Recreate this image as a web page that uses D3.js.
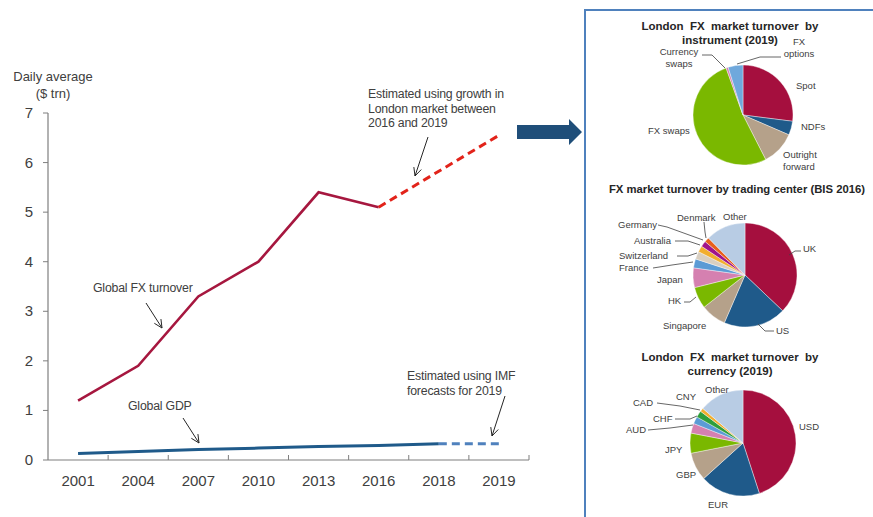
<!DOCTYPE html>
<html>
<head>
<meta charset="utf-8">
<title>FX turnover</title>
<script src="https://cdn.jsdelivr.net/npm/d3@7"></script>
<style>
  body { margin: 0; background: #fff; }
  svg text { font-family: "Liberation Sans", Arial, sans-serif; white-space: pre; }
</style>
</head>
<body>
<div id="chart"></div>
<script>
// ---- data ----
var years = ["2001", "2004", "2007", "2010", "2013", "2016", "2018", "2019"];
var fxYears = ["2001", "2004", "2007", "2010", "2013", "2016"];
var fxTurnover = [1.2, 1.9, 3.3, 4.0, 5.4, 5.1];
var fxEstYears = ["2016", "2019"];
var fxEstimate = [5.1, 6.55];
var gdpYears = ["2001", "2004", "2007", "2010", "2013", "2016", "2018"];
var gdp = [0.13, 0.17, 0.21, 0.24, 0.27, 0.29, 0.33];
var gdpEstYears = ["2018", "2019"];
var gdpEstimate = [0.33, 0.33];
var yTicks = [0, 1, 2, 3, 4, 5, 6, 7];

var instrLabels = ["Spot", "NDFs", "Outright forward", "FX swaps", "Currency swaps", "FX options"];
var instrShares = [27, 4.5, 11, 52, 0.7, 4.8];
var centerLabels = ["UK", "US", "Singapore", "HK", "Japan", "France", "Switzerland", "Australia", "Germany", "Denmark", "Other"];
var centerShares = [37.1, 19.4, 7.9, 6.7, 6.1, 2.8, 2.4, 1.9, 1.8, 1.5, 12.4];
var currLabels = ["USD", "EUR", "GBP", "JPY", "AUD", "CHF", "CAD", "CNY", "Other"];
var currShares = [45, 18.3, 8.6, 6.1, 3, 2.2, 2, 1.1, 13.7];

var width = 873, height = 517;
var svg = d3.select("#chart").append("svg")
  .attr("width", width)
  .attr("height", height);

// ---- line chart ----
var x = d3.scaleBand().domain(years).range([48, 529]).padding(0);
var y = d3.scaleLinear().domain([0, 7]).range([460, 113]);
var cx = function(d) { return x(d) + x.bandwidth() / 2; };

var axisColor = "#7f7f7f", textColor = "#404040";

// y axis
svg.append("line").attr("x1", 48).attr("x2", 48).attr("y1", y(7)).attr("y2", y(0))
  .attr("stroke", axisColor).attr("stroke-width", 1.2);
svg.selectAll("line.ytick").data(yTicks).enter().append("line")
  .attr("class", "ytick")
  .attr("x1", 43).attr("x2", 48)
  .attr("y1", function(d) { return y(d); }).attr("y2", function(d) { return y(d); })
  .attr("stroke", axisColor);
svg.selectAll("text.ylab").data(yTicks).enter().append("text")
  .attr("class", "ylab")
  .attr("x", 33).attr("y", function(d) { return y(d) + 5; })
  .attr("text-anchor", "end")
  .attr("font-size", 15).attr("fill", textColor)
  .text(function(d) { return d; });

svg.append("text").attr("x", 53).attr("y", 81).attr("text-anchor", "middle")
  .attr("font-size", 13).attr("fill", textColor).text("Daily average");
svg.append("text").attr("x", 53).attr("y", 98).attr("text-anchor", "middle")
  .attr("font-size", 13).attr("fill", textColor).text("($ trn)");

// x axis
svg.append("line").attr("x1", 48).attr("x2", 529).attr("y1", y(0)).attr("y2", y(0))
  .attr("stroke", axisColor).attr("stroke-width", 1.2);
svg.selectAll("line.xtick").data(years).enter().append("line")
  .attr("class", "xtick")
  .attr("x1", function(d) { return x(d) + x.bandwidth(); })
  .attr("x2", function(d) { return x(d) + x.bandwidth(); })
  .attr("y1", y(0) - 5).attr("y2", y(0))
  .attr("stroke", axisColor);
svg.selectAll("text.xlab").data(years).enter().append("text")
  .attr("class", "xlab")
  .attr("x", cx).attr("y", 486)
  .attr("text-anchor", "middle")
  .attr("font-size", 15).attr("fill", textColor)
  .text(function(d) { return d; });

var line = d3.line().x(function(d) { return cx(d[0]); }).y(function(d) { return y(d[1]); });

svg.append("path").datum(d3.zip(fxYears, fxTurnover)).attr("d", line)
  .attr("fill", "none").attr("stroke", "#A6173F").attr("stroke-width", 2.6);
svg.append("path").datum(d3.zip(fxEstYears, fxEstimate)).attr("d", line)
  .attr("fill", "none").attr("stroke", "#E2231A").attr("stroke-width", 3)
  .attr("stroke-dasharray", "8,5");
svg.append("path").datum(d3.zip(gdpYears, gdp)).attr("d", line)
  .attr("fill", "none").attr("stroke", "#1F5A8A").attr("stroke-width", 3);
svg.append("path").datum(d3.zip(gdpEstYears, gdpEstimate)).attr("d", line)
  .attr("fill", "none").attr("stroke", "#4F81BD").attr("stroke-width", 3)
  .attr("stroke-dasharray", "8,5");

// annotations
function note(lines, x0, y0, size) {
  var t = svg.append("text").attr("font-size", size).attr("fill", "#404040")
    .attr("letter-spacing", -0.2);
  lines.forEach(function(s, i) {
    t.append("tspan").attr("x", x0).attr("y", y0 + i * 14.5).text(s);
  });
}
function arrow(x1, y1, x2, y2) {
  svg.append("line").attr("x1", x1).attr("y1", y1).attr("x2", x2).attr("y2", y2)
    .attr("stroke", "#262626").attr("stroke-width", 1);
  var a = Math.atan2(y2 - y1, x2 - x1), L = 9, w = 0.45;
  svg.append("polyline")
    .attr("points", [
      [x2 - L * Math.cos(a - w), y2 - L * Math.sin(a - w)],
      [x2, y2],
      [x2 - L * Math.cos(a + w), y2 - L * Math.sin(a + w)]
    ].map(function(p) { return p.join(","); }).join(" "))
    .attr("fill", "none").attr("stroke", "#262626").attr("stroke-width", 1);
}
note(["Estimated using growth in", "London market between", "2016 and 2019"], 368, 98, 12.3);
arrow(428, 137, 415, 176);
note(["Global FX turnover"], 93, 292, 12.3);
arrow(146, 303, 162, 328);
note(["Global GDP"], 128, 410, 12.3);
arrow(183, 418, 199, 443);
note(["Estimated using IMF", "forecasts for 2019"], 407, 380, 12.3);
arrow(505, 396, 492, 436);

// big arrow
svg.append("polygon")
  .attr("points", "517,125 569,125 569,119 582,132 569,145 569,139 517,139")
  .attr("fill", "#1F4E79");

// ---- right panel ----
svg.append("rect").attr("x", 585).attr("y", 10).attr("width", 300).attr("height", 520)
  .attr("fill", "none").attr("stroke", "#4F81BD").attr("stroke-width", 2);

function title(lines, x0, y0, size) {
  var t = svg.append("text").attr("font-size", size).attr("font-weight", "bold")
    .attr("fill", "#262626").attr("text-anchor", "middle");
  lines.forEach(function(s, i) {
    t.append("tspan").attr("x", x0).attr("y", y0 + i * 13.5).text(s);
  });
}

function pie(shares, colors, c0, c1, r) {
  var arcs = d3.pie().sort(null)(shares);
  var arc = d3.arc().innerRadius(0).outerRadius(r);
  svg.append("g").attr("transform", "translate(" + c0 + "," + c1 + ")")
    .selectAll("path").data(arcs).enter().append("path")
    .attr("d", arc)
    .attr("fill", function(d, i) { return colors[i]; })
    .attr("stroke", "#fff").attr("stroke-width", 0.4);
}

function label(lines, x0, y0, anchor) {
  var t = svg.append("text").attr("font-size", 9.5).attr("fill", "#404040")
    .attr("text-anchor", anchor || "start");
  lines.forEach(function(s, i) {
    t.append("tspan").attr("x", x0).attr("y", y0 + i * 11.5).text(s);
  });
}
function leader(pts) {
  svg.append("polyline").attr("points", pts.map(function(p) { return p.join(","); }).join(" "))
    .attr("fill", "none").attr("stroke", "#404040").attr("stroke-width", 0.8);
}

var crimson = "#A50F3E", navy = "#1F5A8A", tan = "#B5A18A", green = "#7AB800",
    pink = "#D580B0", blue = "#5B9BD5", beige = "#D9CFC1", gold = "#F2AE2E",
    magenta = "#A0148A", orange = "#E8601C", pale = "#B8CCE4", dgreen = "#2E9E3A";

// pie 1
title(["London  FX  market turnover  by", "instrument (2019)"], 730, 30, 11.5);
pie(instrShares, [crimson, navy, tan, green, pink, "#6FA8DC"], 743, 115, 50);
label(["Spot"], 796, 89);
label(["NDFs"], 801, 130);
label(["Outright", "forward"], 783, 158);
label(["FX swaps"], 648, 134);
label(["Currency", "swaps"], 679, 55, "middle");
label(["FX", "options"], 799, 45, "middle");
leader([[702, 55], [712, 55], [725, 68]]);
leader([[781, 57], [760, 57], [737, 64]]);

// pie 2
title(["FX market turnover by trading center (BIS 2016)"], 737, 193, 11.3);
pie(centerShares, [crimson, navy, tan, green, pink, blue, beige, gold, magenta, orange, pale], 745, 275, 52);
label(["UK"], 803, 252);
label(["US"], 776, 334);
label(["Singapore"], 663, 329);
label(["HK"], 668, 304);
label(["Japan"], 657, 283);
label(["France"], 619, 271);
label(["Switzerland"], 619, 259);
label(["Australia"], 634, 244);
label(["Germany"], 618, 228);
label(["Denmark"], 677, 221);
label(["Other"], 723, 220);
leader([[789, 255], [795, 251], [801, 251]]);
leader([[758, 324], [765, 331], [774, 331]]);
leader([[684, 302], [690, 302], [696, 297]]);
leader([[653, 268], [672, 265], [693, 262]]);
leader([[677, 256], [688, 256], [697, 253]]);
leader([[675, 241], [688, 241], [700, 245]]);
leader([[658, 225], [667, 227], [703, 240]]);
leader([[704, 222], [705, 232], [706, 238]]);

// pie 3
title(["London  FX  market turnover  by", "currency (2019)"], 730, 361, 11.5);
pie(currShares, [crimson, navy, tan, green, pink, blue, dgreen, gold, pale], 743, 443, 53);
label(["USD"], 799, 430);
label(["EUR"], 708, 508);
label(["GBP"], 676, 478);
label(["JPY"], 665, 453);
label(["AUD"], 626, 433);
label(["CHF"], 653, 422);
label(["CAD"], 633, 406);
label(["CNY"], 676, 400);
label(["Other"], 705, 393);
leader([[648, 430], [670, 428], [693, 425]]);
leader([[675, 419], [690, 419], [697, 416]]);
leader([[657, 403], [680, 406], [700, 410]]);
</script>
</body>
</html>
